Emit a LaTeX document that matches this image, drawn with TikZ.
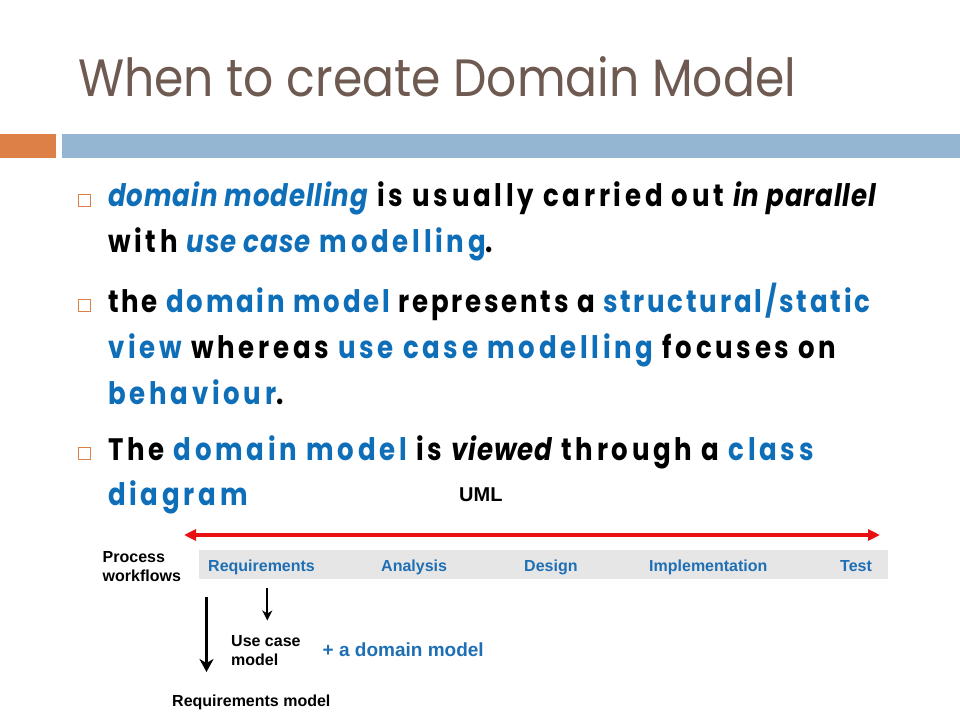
\documentclass[tikz,border=0pt]{standalone}
\usepackage{fontspec}
\setmainfont{Poppins}
\newfontfamily\titlef{Poppins}[FakeStretch=0.9]
\newfontfamily\bodyf{Poppins}[LetterSpace=12, FakeStretch=0.84]
\newfontfamily\bodyn{Poppins}[LetterSpace=9, FakeStretch=0.84]
\newfontfamily\bodyit{Poppins}[LetterSpace=3, FakeStretch=0.84]
\newfontfamily\arialf{Liberation Sans}
\usetikzlibrary{arrows.meta}
\definecolor{tblue}{HTML}{0E6EB8}
\definecolor{titlec}{HTML}{6E5A50}
\definecolor{orangec}{HTML}{DD8047}
\definecolor{barblue}{HTML}{94B6D2}
\definecolor{bandgray}{HTML}{E6E6E6}
\definecolor{redc}{HTML}{E81010}
\definecolor{lblue}{HTML}{1F6FB5}
\newcommand{\hb}[1]{\textcolor{tblue}{#1}}
\newcommand{\iit}[1]{{\bodyit\bfseries\itshape #1}}
\begin{document}
\begin{tikzpicture}[x=1pt,y=-1pt,
  txt/.style={anchor=base west, inner sep=0pt, font=\bodyf\fontsize{31}{36}\selectfont\bfseries},
  txtn/.style={txt, font=\bodyn\fontsize{31}{36}\selectfont\bfseries},
  bul/.style={draw=orangec, line width=1pt, fill=white, minimum size=12pt, inner sep=0pt, anchor=south west},
  lab/.style={anchor=base west, inner sep=0pt, font=\arialf\fontsize{16}{19}\selectfont\bfseries},
  blab/.style={lab, text=lblue},
  darrow/.style={draw=black}]
\useasboundingbox (0,0) rectangle (960,720);
\fill[white] (0,0) rectangle (960,720);
\node[anchor=base west, inner sep=0pt, font=\titlef\fontsize{52.5}{60}\selectfont, text=titlec] (title) at (78,96) {When to create Domain Model};
\fill[orangec] (0,134) rectangle (56,158);
\fill[barblue] (62,134) rectangle (960,158);
% bullets
\node[bul] (b1) at (78,207) {};
\node[bul] (b2) at (78,312) {};
\node[bul] (b3) at (78,460) {};
\node[txt] (l1) at (108,206) {\hb{\iit{domain modelling}} is usually carried out \iit{in parallel}};
\node[txt] (l2) at (108,252) {with \hb{\iit{use case} modelling}.};
\node[txtn] (l3) at (108,312) {the \hb{domain model} represents a \hb{structural/static}};
\node[txt] (l4) at (108,358) {\hb{view} whereas \hb{use case modelling} focuses on};
\node[txt] (l5) at (108,404) {\hb{behaviour}.};
\node[txt] (l6) at (108,460) {The \hb{domain model} is \iit{viewed} through a \hb{class}};
\node[txt] (l7) at (108,505) {\hb{diagram}};
% bottom diagram
\node[lab, font=\arialf\fontsize{20}{24}\selectfont\bfseries] (uml) at (459,501.5) {UML};
\coordinate (ra) at (184,535);
\coordinate (rb) at (880,535);
\draw[redc, line width=3.5pt, {Triangle[length=12pt,width=11pt]}-{Triangle[length=12pt,width=11pt]}] (ra) -- (rb);
\node[fill=bandgray, minimum width=689pt, minimum height=29pt, anchor=north west, inner sep=0pt] (band) at (199,550) {};
\node[blab] (req) at (208,571) {Requirements};
\node[blab] (ana) at (381,571) {Analysis};
\node[blab] (des) at (524,571) {Design};
\node[blab] (imp) at (649,571) {Implementation};
\node[blab] (tst) at (840,571) {Test};
\node[lab] (pw1) at (102.5,562.5) {Process};
\node[lab] (pw2) at (102.5,581.5) {workflows};
\node[lab] (ucm1) at (231,646.5) {Use case};
\node[lab] (ucm2) at (231,665) {model};
\node[lab, text=lblue, font=\arialf\fontsize{19}{23}\selectfont\bfseries] (dm) at (322.5,656) {+ a domain model};
\node[lab] (rm) at (172,706.5) {Requirements model};
\coordinate (a1s) at (206.5,597);
\coordinate (a1e) at (206.5,672);
\draw[darrow, line width=3.3pt, -{Stealth[length=13pt,width=14pt,inset=4pt]}] (a1s) -- (a1e);
\coordinate (a2s) at (267.3,588);
\coordinate (a2e) at (267.3,620.5);
\draw[darrow, line width=2pt, -{Stealth[length=10pt,width=10pt,inset=3pt]}] (a2s) -- (a2e);
\end{tikzpicture}
\end{document}
